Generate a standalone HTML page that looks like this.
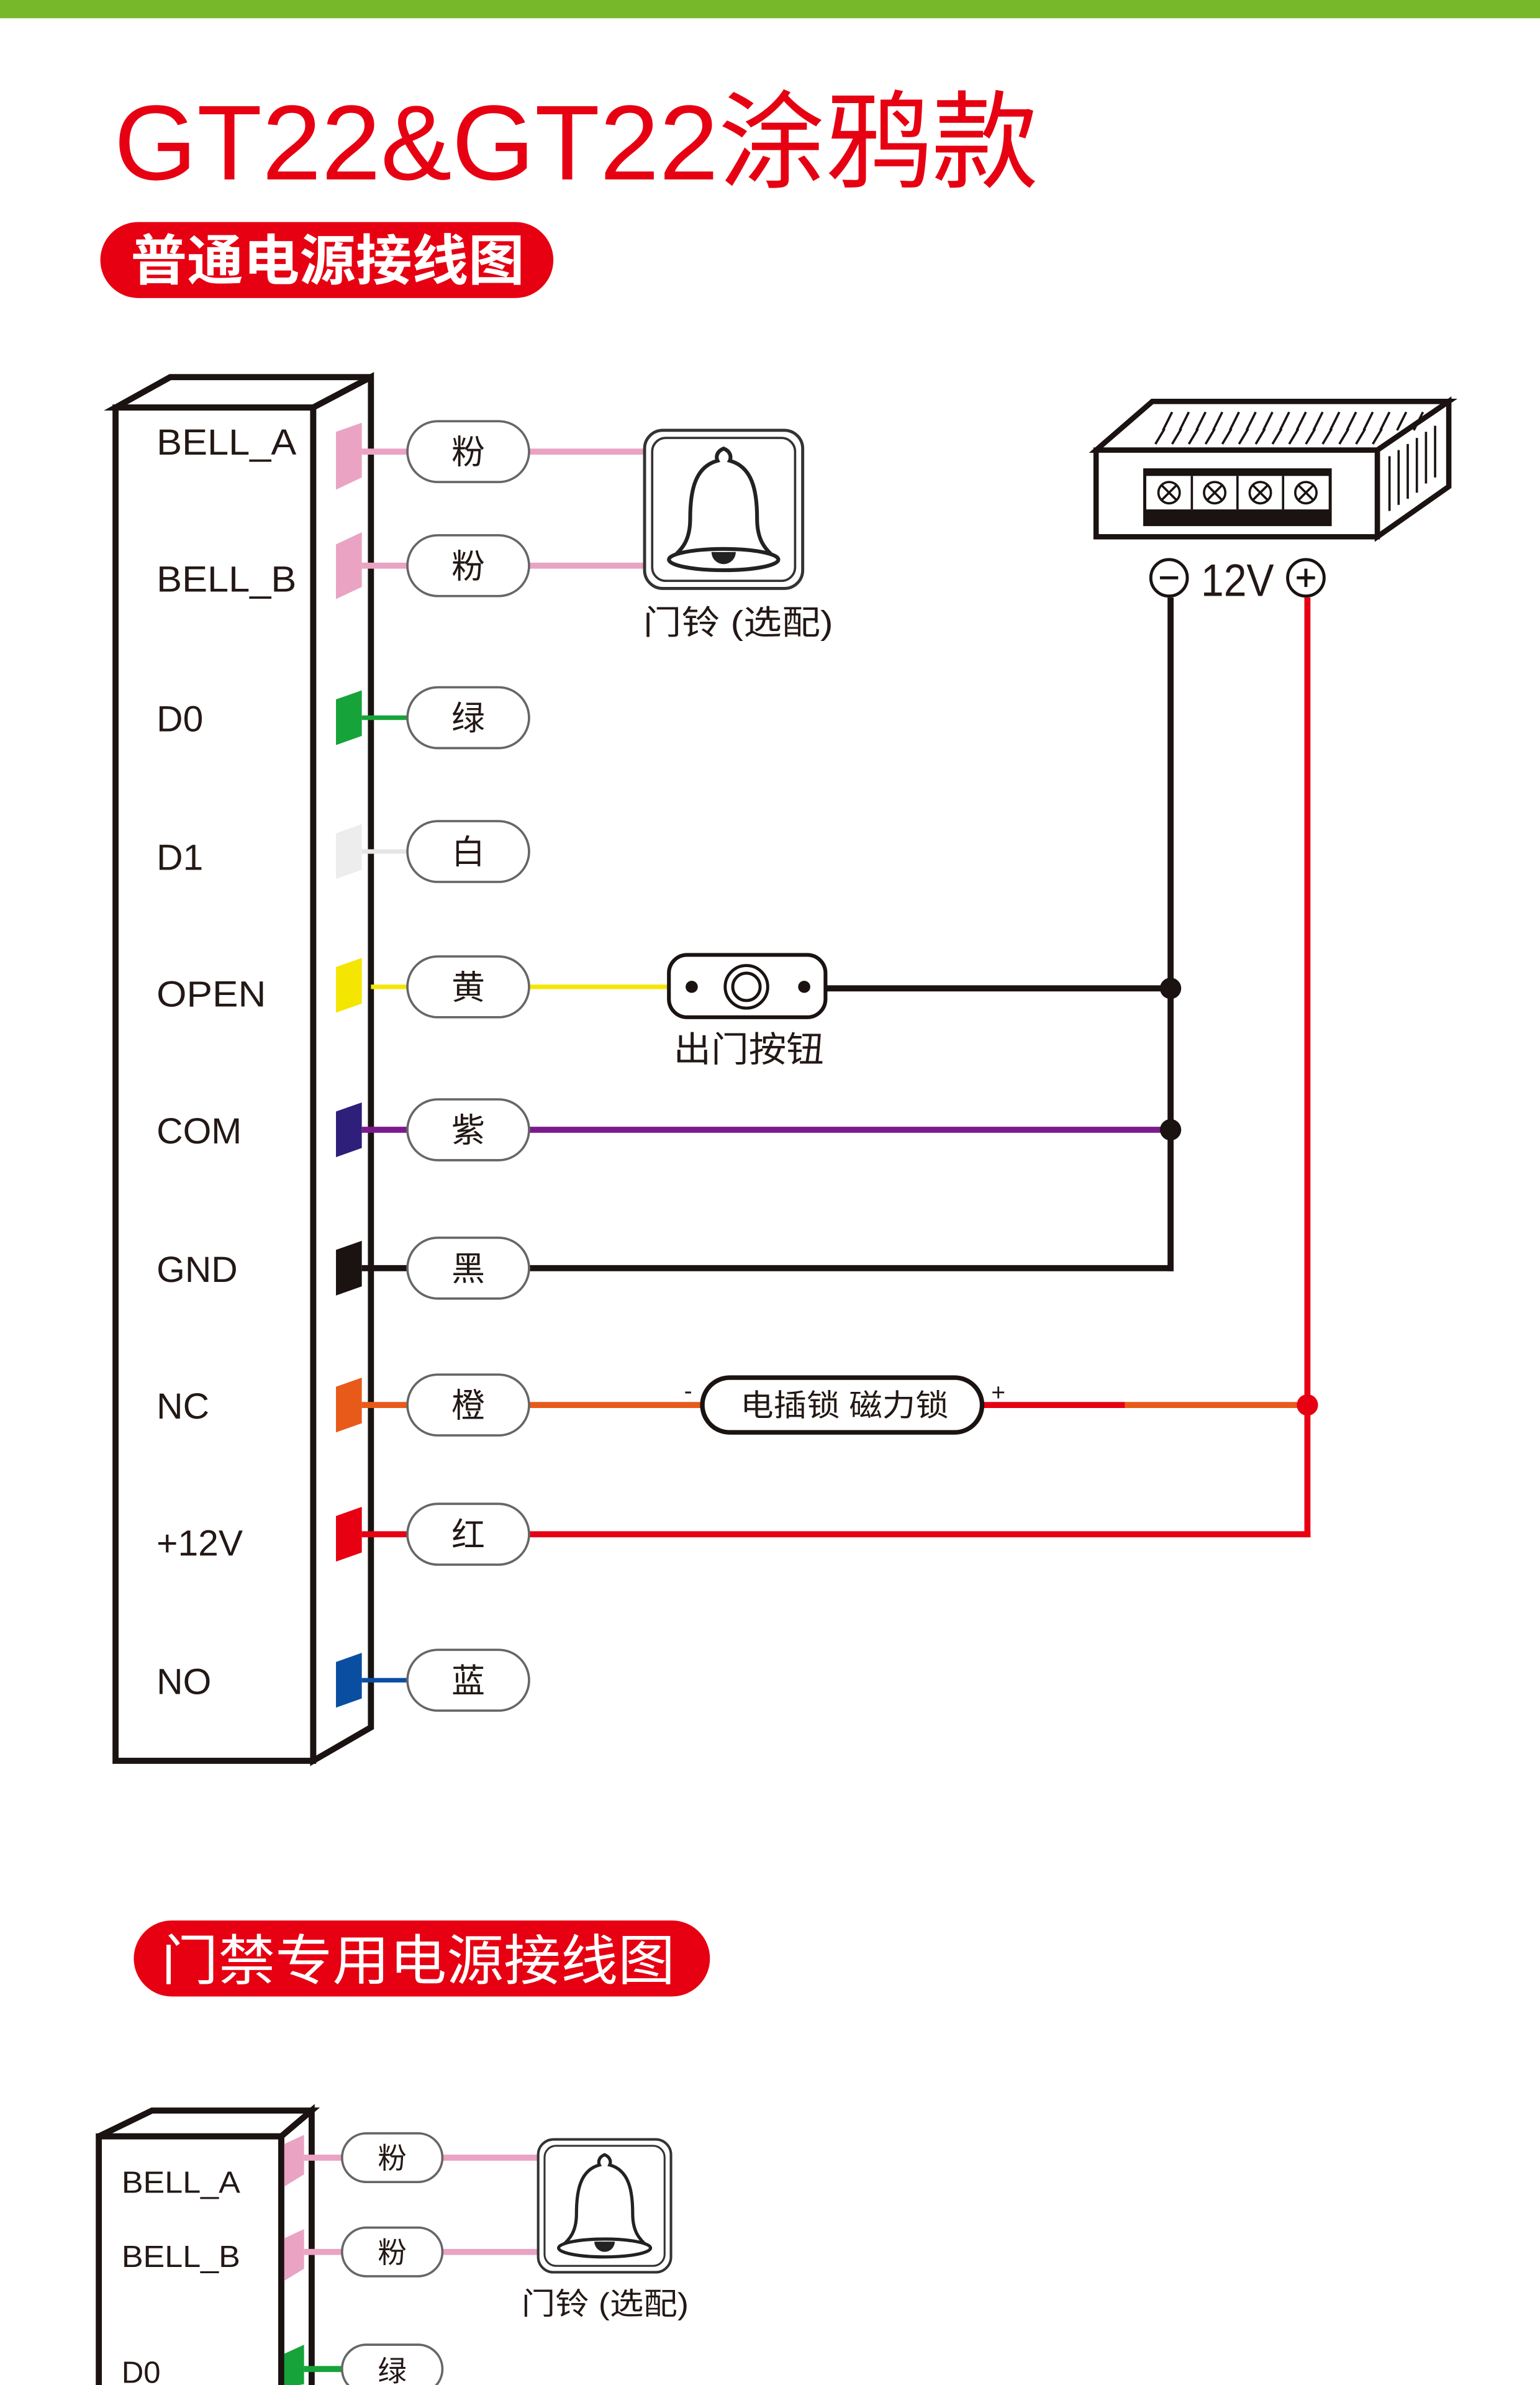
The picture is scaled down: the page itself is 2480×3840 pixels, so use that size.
<!DOCTYPE html>
<html><head><meta charset="utf-8"><style>
html,body{margin:0;padding:0;background:#fff;}
svg{display:block;}
text{font-family:"Liberation Sans","Noto Sans CJK SC",sans-serif;}
</style></head><body>
<svg width="2480" height="3840" viewBox="0 0 1013 1568.5" xmlns="http://www.w3.org/2000/svg">
<rect x="0" y="0" width="1013" height="1568.5" fill="#fff"/>
<rect x="0" y="0" width="1013" height="12" fill="#77b82a"/>
<text x="75" y="118" font-size="70" fill="#e60012" textLength="608" lengthAdjust="spacingAndGlyphs">GT22&amp;GT22涂鸦款</text>
<rect x="66" y="146" width="298" height="50" rx="25" fill="#e60012"/>
<text x="86" y="184" font-size="36" font-weight="bold" fill="#fff" textLength="259" lengthAdjust="spacingAndGlyphs">普通电源接线图</text>

<g stroke="#1a1311" stroke-width="4" fill="#fff" stroke-linejoin="miter">
<polygon points="76,268 112,248 244,248 206,268"/>
<polygon points="206,268 244,248 244,1136 206,1158"/>
<rect x="76" y="268" width="130" height="890"/>
</g>
<g font-size="24" fill="#231815">
<text x="103" y="299" textLength="92" lengthAdjust="spacingAndGlyphs">BELL_A</text>
<text x="103" y="389" textLength="92" lengthAdjust="spacingAndGlyphs">BELL_B</text>
<text x="103" y="481">D0</text>
<text x="103" y="572">D1</text>
<text x="103" y="662" textLength="72" lengthAdjust="spacingAndGlyphs">OPEN</text>
<text x="103" y="752">COM</text>
<text x="103" y="843">GND</text>
<text x="103" y="933">NC</text>
<text x="103" y="1023">+12V</text>
<text x="103" y="1114">NO</text>
</g>

<g stroke-width="4" fill="none">
<line x1="238" y1="297" x2="424" y2="297" stroke="#eaa3c3"/>
<line x1="238" y1="372" x2="424" y2="372" stroke="#eaa3c3"/>
<line x1="238" y1="472" x2="268" y2="472" stroke="#16a33a" stroke-width="3"/>
<line x1="238" y1="560" x2="268" y2="560" stroke="#e6e6e6" stroke-width="3"/>
<line x1="244" y1="649" x2="440" y2="649" stroke="#f4e600" stroke-width="3"/>
<line x1="543" y1="650" x2="770" y2="650" stroke="#1a1311"/>
<line x1="238" y1="743" x2="770" y2="743" stroke="#7b1a8c"/>
<line x1="238" y1="834" x2="772" y2="834" stroke="#1a1311"/>
<line x1="770" y1="393" x2="770" y2="836" stroke="#1a1311"/>
<line x1="238" y1="924" x2="462" y2="924" stroke="#e85a1a"/>
<line x1="646" y1="924" x2="740" y2="924" stroke="#e60012"/>
<line x1="740" y1="924" x2="860" y2="924" stroke="#e85a1a"/>
<line x1="238" y1="1009" x2="862" y2="1009" stroke="#e60012"/>
<line x1="860" y1="393" x2="860" y2="1011" stroke="#e60012"/>
<line x1="238" y1="1105" x2="270" y2="1105" stroke="#0a4ea2" stroke-width="3"/>
</g>
<circle cx="770" cy="650" r="7" fill="#1a1311"/>
<circle cx="770" cy="743" r="7" fill="#1a1311"/>
<circle cx="860" cy="924" r="7" fill="#e60012"/>

<g>
<polygon points="221,284 238,278 238,314 221,322" fill="#eaa3c3"/>
<polygon points="221,358 238,350 238,386 221,394" fill="#eaa3c3"/>
<polygon points="221,460 238,454 238,484 221,490" fill="#16a33a"/>
<polygon points="221,548 238,542 238,572 221,578" fill="#ededed"/>
<polygon points="221,636 238,630 238,660 221,666" fill="#f4e600"/>
<polygon points="221,731 238,725 238,755 221,761" fill="#2e1f7a"/>
<polygon points="221,822 238,816 238,846 221,852" fill="#1a1311"/>
<polygon points="221,912 238,906 238,936 221,942" fill="#e85a1a"/>
<polygon points="221,997 238,991 238,1021 221,1027" fill="#e60012"/>
<polygon points="221,1093 238,1087 238,1117 221,1123" fill="#0a4ea2"/>
</g>

<g stroke="#666" stroke-width="1.5" fill="#fff">
<rect x="268" y="277" width="80" height="40" rx="20"/>
<rect x="268" y="352" width="80" height="40" rx="20"/>
<rect x="268" y="452" width="80" height="40" rx="20"/>
<rect x="268" y="540" width="80" height="40" rx="20"/>
<rect x="268" y="629" width="80" height="40" rx="20"/>
<rect x="268" y="723" width="80" height="40" rx="20"/>
<rect x="268" y="814" width="80" height="40" rx="20"/>
<rect x="268" y="904" width="80" height="40" rx="20"/>
<rect x="268" y="989" width="80" height="40" rx="20"/>
<rect x="268" y="1085" width="80" height="40" rx="20"/>
</g>
<g font-size="22" fill="#231815" text-anchor="middle">
<text x="308" y="305">粉</text>
<text x="308" y="380">粉</text>
<text x="308" y="480">绿</text>
<text x="308" y="568">白</text>
<text x="308" y="657">黄</text>
<text x="308" y="751">紫</text>
<text x="308" y="842">黑</text>
<text x="308" y="932">橙</text>
<text x="308" y="1017">红</text>
<text x="308" y="1113">蓝</text>
</g>

<g transform="translate(424,283)">
<rect x="0" y="0" width="104" height="104" rx="12" fill="#fff" stroke="#333" stroke-width="2"/>
<rect x="5" y="5" width="94" height="94" rx="9" fill="none" stroke="#333" stroke-width="1.5"/>
<path d="M52,12 C47,14 47,18 48,20 C33,24 30,40 30,58 C30,72 25,78 18,84 L86,84 C79,78 74,72 74,58 C74,40 71,24 56,20 C57,18 57,14 52,12 Z" fill="#fff" stroke="#222" stroke-width="2.5"/>
<ellipse cx="52" cy="85" rx="36" ry="7" fill="#fff" stroke="#222" stroke-width="2.5"/>
<path d="M44,80 A8,8 0 0 0 60,80 Z" fill="#222"/>
</g>
<text x="423" y="417" font-size="22" fill="#231815" textLength="125" lengthAdjust="spacingAndGlyphs">门铃 (选配)</text>

<rect x="440" y="628" width="103" height="41" rx="12" fill="#fff" stroke="#1a1311" stroke-width="2.5"/>
<circle cx="455" cy="649" r="4" fill="#1a1311"/>
<circle cx="529" cy="649" r="4" fill="#1a1311"/>
<circle cx="491" cy="649" r="14" fill="#fff" stroke="#1a1311" stroke-width="2"/>
<circle cx="491" cy="649" r="9" fill="#fff" stroke="#1a1311" stroke-width="2"/>
<text x="443" y="698" font-size="23" fill="#231815" textLength="99" lengthAdjust="spacingAndGlyphs">出门按钮</text>

<rect x="462" y="906" width="184" height="36" rx="18" fill="#fff" stroke="#1a1311" stroke-width="3"/>
<text x="487" y="931" font-size="20" fill="#231815" textLength="137" lengthAdjust="spacingAndGlyphs">电插锁 磁力锁</text>
<text x="450" y="920" font-size="16" fill="#231815">-</text>
<text x="652" y="921" font-size="16" fill="#231815">+</text>

<g stroke="#1a1311" stroke-width="3.5" fill="#fff">
<polygon points="721,296 758,264 953,264 906,296"/>
<polygon points="906,296 953,264 953,320 906,353"/>
<rect x="721" y="296" width="185" height="57"/>
</g>
<g stroke="#1a1311" stroke-width="1.5">
<path d="M765,283 l6,-12 M776,283 l6,-12 M787,283 l6,-12 M798,283 l6,-12 M809,283 l6,-12 M820,283 l6,-12 M831,283 l6,-12 M842,283 l6,-12 M853,283 l6,-12 M864,283 l6,-12 M875,283 l6,-12 M886,283 l6,-12 M897,283 l6,-12 M908,283 l6,-12 M919,283 l6,-12 M930,283 l6,-12"/>
<path d="M760,292 l6,-10 M771,292 l6,-10 M782,292 l6,-10 M793,292 l6,-10 M804,292 l6,-10 M815,292 l6,-10 M826,292 l6,-10 M837,292 l6,-10 M848,292 l6,-10 M859,292 l6,-10 M870,292 l6,-10 M881,292 l6,-10 M892,292 l6,-10 M903,292 l6,-10"/>
<path d="M914,300 v36 M920,296 v36 M926,292 v36 M932,288 v36 M938,284 v34 M944,280 v34"/>
</g>
<rect x="752" y="308" width="124" height="38" fill="#1a1311"/>
<rect x="754" y="313" width="120" height="22" fill="#fff"/>
<g stroke="#1a1311" stroke-width="1.5" fill="#fff">
<line x1="784" y1="313" x2="784" y2="335"/><line x1="814" y1="313" x2="814" y2="335"/><line x1="844" y1="313" x2="844" y2="335"/>
<circle cx="769" cy="324" r="7"/><path d="M764,319 l10,10 M774,319 l-10,10"/>
<circle cx="799" cy="324" r="7"/><path d="M794,319 l10,10 M804,319 l-10,10"/>
<circle cx="829" cy="324" r="7"/><path d="M824,319 l10,10 M834,319 l-10,10"/>
<circle cx="859" cy="324" r="7"/><path d="M854,319 l10,10 M864,319 l-10,10"/>
</g>
<circle cx="769" cy="380" r="12" fill="#fff" stroke="#1a1311" stroke-width="2"/>
<line x1="763" y1="380" x2="775" y2="380" stroke="#1a1311" stroke-width="2"/>
<circle cx="859" cy="380" r="12" fill="#fff" stroke="#1a1311" stroke-width="2"/>
<path d="M853,380 h12 M859,374 v12" stroke="#1a1311" stroke-width="2"/>
<text x="790" y="392" font-size="30" fill="#231815" textLength="48" lengthAdjust="spacingAndGlyphs">12V</text>

<rect x="88" y="1263" width="379" height="50" rx="25" fill="#e60012"/>
<text x="106" y="1302" font-size="36" fill="#fff" textLength="338" lengthAdjust="spacingAndGlyphs">门禁专用电源接线图</text>

<g stroke="#1a1311" stroke-width="4" fill="#fff">
<polygon points="65,1405 100,1388 205,1388 185,1405"/>
<polygon points="185,1405 205,1388 205,1575 185,1575"/>
<rect x="65" y="1405" width="120" height="170"/>
</g>
<g font-size="20" fill="#231815">
<text x="80" y="1442" textLength="78" lengthAdjust="spacingAndGlyphs">BELL_A</text>
<text x="80" y="1491" textLength="78" lengthAdjust="spacingAndGlyphs">BELL_B</text>
<text x="80" y="1567">D0</text>
</g>
<line x1="200" y1="1419" x2="354" y2="1419" stroke="#eaa3c3" stroke-width="4"/>
<line x1="200" y1="1481" x2="354" y2="1481" stroke="#eaa3c3" stroke-width="4"/>
<line x1="200" y1="1558" x2="225" y2="1558" stroke="#16a33a" stroke-width="4"/>
<polygon points="187,1410 200,1404 200,1430 187,1438" fill="#eaa3c3"/>
<polygon points="187,1472 200,1466 200,1492 187,1500" fill="#eaa3c3"/>
<polygon points="187,1548 200,1542 200,1568 187,1570" fill="#16a33a"/>
<g stroke="#666" stroke-width="1.5" fill="#fff">
<rect x="225" y="1403" width="66" height="32" rx="16"/>
<rect x="225" y="1465" width="66" height="32" rx="16"/>
<rect x="225" y="1542" width="66" height="32" rx="16"/>
</g>
<g font-size="19" fill="#231815" text-anchor="middle">
<text x="258" y="1426">粉</text>
<text x="258" y="1488">粉</text>
<text x="258" y="1566">绿</text>
</g>
<g transform="translate(354,1407) scale(0.84)">
<rect x="0" y="0" width="104" height="104" rx="12" fill="#fff" stroke="#333" stroke-width="2"/>
<rect x="5" y="5" width="94" height="94" rx="9" fill="none" stroke="#333" stroke-width="1.5"/>
<path d="M52,12 C47,14 47,18 48,20 C33,24 30,40 30,58 C30,72 25,78 18,84 L86,84 C79,78 74,72 74,58 C74,40 71,24 56,20 C57,18 57,14 52,12 Z" fill="#fff" stroke="#222" stroke-width="2.5"/>
<ellipse cx="52" cy="85" rx="36" ry="7" fill="#fff" stroke="#222" stroke-width="2.5"/>
<path d="M44,80 A8,8 0 0 0 60,80 Z" fill="#222"/>
</g>
<text x="343" y="1522" font-size="20" fill="#231815" textLength="110" lengthAdjust="spacingAndGlyphs">门铃 (选配)</text>
</svg>
</body></html>
